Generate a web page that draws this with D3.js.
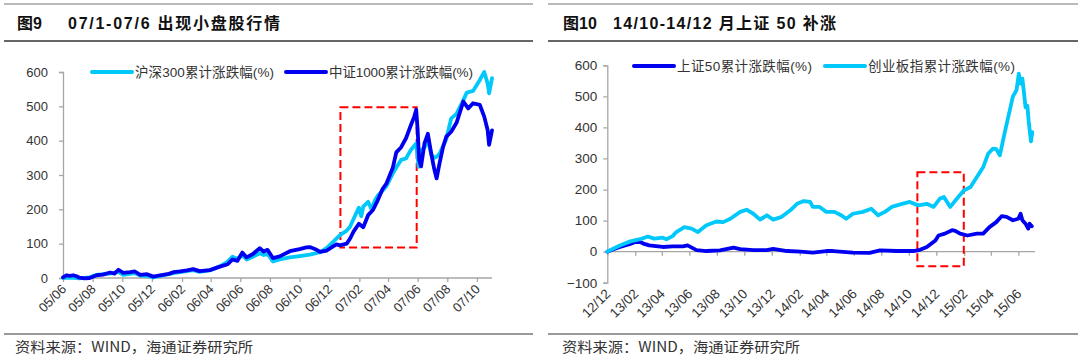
<!DOCTYPE html>
<html><head><meta charset="utf-8">
<script src="https://cdn.jsdelivr.net/npm/d3@7"></script>
<style>body{margin:0;background:#fff}svg{display:block}</style>
</head><body>
<svg id="c" width="1080" height="364"></svg>
<script>
// ---------- DATA: left chart (图9) ----------
const leftTitleNo = "图9";
const leftTitle = "07/1-07/6 出现小盘股行情";
const leftTickLabels = ["05/06","05/08","05/10","05/12","06/02","06/04","06/06","06/08","06/10","06/12","07/02","07/04","07/06","07/08","07/10"];
const leftYTicks = [0,100,200,300,400,500,600];
const hs300Name = "沪深300累计涨跌幅(%)";
const hs300Dates = ["2005-06-01","2005-06-15","2005-07-05","2005-07-26","2005-08-09","2005-08-22","2005-09-06","2005-09-23","2005-10-03","2005-10-17","2005-10-27","2005-11-07","2005-11-21","2005-12-04","2005-12-18","2006-01-14","2006-02-11","2006-02-24","2006-03-09","2006-03-30","2006-04-20","2006-05-06","2006-05-16","2006-05-26","2006-06-05","2006-06-14","2006-06-27","2006-07-11","2006-07-19","2006-07-27","2006-08-07","2006-08-21","2006-09-11","2006-10-01","2006-10-22","2006-11-12","2006-11-26","2006-12-09","2006-12-23","2007-01-06","2007-01-13","2007-01-20","2007-01-31","2007-02-05","2007-02-09","2007-02-19","2007-02-26","2007-03-05","2007-03-11","2007-03-21","2007-03-29","2007-04-11","2007-04-18","2007-04-28","2007-05-08","2007-05-18","2007-05-29","2007-06-03","2007-06-08","2007-06-15","2007-06-22","2007-06-29","2007-07-05","2007-07-10","2007-07-16","2007-07-30","2007-08-09","2007-08-20","2007-09-03","2007-09-10","2007-09-23","2007-10-07","2007-10-16","2007-10-23","2007-10-26","2007-11-01"];
const hs300Values = [0,1,-1,2,9,11,13,18,9,12,14,7,6,2,6,14,20,23,18,22,34,48,62,56,66,54,62,72,67,70,48,54,60,64,68,75,88,105,125,138,150,172,205,180,208,222,200,226,240,255,268,305,322,344,348,373,392,324,373,380,402,360,350,353,362,405,465,478,518,540,545,577,600,567,538,582];
const csi1000Name = "中证1000累计涨跌幅(%)";
const csi1000Dates = ["2005-06-01","2005-06-08","2005-06-15","2005-06-22","2005-06-29","2005-07-05","2005-07-15","2005-07-26","2005-08-09","2005-08-22","2005-09-06","2005-09-15","2005-09-23","2005-10-03","2005-10-17","2005-10-27","2005-11-07","2005-11-21","2005-12-04","2005-12-18","2006-01-05","2006-01-14","2006-01-28","2006-02-11","2006-02-24","2006-03-09","2006-03-30","2006-04-20","2006-05-06","2006-05-16","2006-05-26","2006-06-05","2006-06-14","2006-06-27","2006-07-11","2006-07-19","2006-07-27","2006-08-07","2006-08-21","2006-09-11","2006-10-01","2006-10-15","2006-10-22","2006-11-05","2006-11-12","2006-11-26","2006-12-09","2006-12-16","2006-12-23","2007-01-06","2007-01-13","2007-01-20","2007-01-31","2007-02-09","2007-02-19","2007-03-01","2007-03-11","2007-03-21","2007-03-29","2007-04-11","2007-04-18","2007-04-28","2007-05-08","2007-05-18","2007-05-25","2007-05-29","2007-06-01","2007-06-04","2007-06-08","2007-06-15","2007-06-22","2007-06-29","2007-07-05","2007-07-10","2007-07-16","2007-07-23","2007-07-30","2007-08-09","2007-08-20","2007-09-03","2007-09-13","2007-09-23","2007-10-07","2007-10-16","2007-10-23","2007-10-26","2007-11-01"];
const csi1000Values = [2,8,6,8,5,1,-1,0,8,10,16,13,24,15,17,19,9,11,4,8,12,17,19,22,26,20,23,33,40,54,50,74,60,70,87,77,82,58,63,78,84,89,90,82,76,80,92,98,95,100,115,135,158,148,183,198,227,260,276,322,366,381,407,445,470,490,430,344,325,392,420,362,318,290,334,380,412,426,452,514,494,509,504,470,431,388,430];
const leftBoxDates = ["2006-12-24","2007-05-30"];
const leftBoxValues = [89,497];

// ---------- DATA: right chart (图10) ----------
const rightTitleNo = "图10";
const rightTitle = "14/10-14/12 月上证 50 补涨";
const rightTickLabels = ["12/12","13/02","13/04","13/06","13/08","13/10","13/12","14/02","14/04","14/06","14/08","14/10","14/12","15/02","15/04","15/06"];
const rightYTicks = [-100,0,100,200,300,400,500,600];
const sz50Name = "上证50累计涨跌幅(%)";
const sz50Dates = ["2012-12-01","2012-12-15","2012-12-29","2013-01-21","2013-02-01","2013-02-12","2013-02-19","2013-03-04","2013-04-03","2013-04-25","2013-05-18","2013-05-28","2013-06-17","2013-07-09","2013-08-08","2013-09-07","2013-09-22","2013-10-21","2013-11-20","2013-12-04","2014-01-04","2014-02-03","2014-03-02","2014-04-01","2014-04-16","2014-05-30","2014-07-06","2014-07-29","2014-09-04","2014-10-11","2014-10-26","2014-11-10","2014-11-29","2014-12-06","2014-12-20","2015-01-05","2015-01-12","2015-01-23","2015-02-08","2015-03-01","2015-03-15","2015-03-29","2015-04-13","2015-04-25","2015-05-06","2015-05-20","2015-06-01","2015-06-06","2015-06-10","2015-06-17","2015-06-23","2015-06-26","2015-07-01"];
const sz50Values = [0,8,15,25,31,31,26,20,15,17,17,20,5,2,4,13,8,5,5,9,2,0,-3,2,2,-3,-4,4,2,2,6,15,36,52,58,69,67,58,52,58,58,79,95,114,112,101,106,122,101,90,74,90,82];
const cybName = "创业板指累计涨跌幅(%)";
const cybDates = ["2012-12-01","2012-12-15","2012-12-29","2013-01-21","2013-02-12","2013-03-01","2013-03-15","2013-04-03","2013-04-11","2013-04-25","2013-05-03","2013-05-21","2013-06-06","2013-06-20","2013-07-09","2013-07-31","2013-08-15","2013-08-31","2013-09-22","2013-10-06","2013-10-21","2013-11-05","2013-11-20","2013-12-04","2013-12-23","2014-01-11","2014-01-26","2014-02-10","2014-02-24","2014-03-02","2014-03-17","2014-04-01","2014-04-19","2014-05-04","2014-05-15","2014-05-30","2014-06-21","2014-07-10","2014-07-25","2014-08-09","2014-08-24","2014-09-16","2014-10-03","2014-10-22","2014-11-10","2014-11-25","2014-12-09","2014-12-18","2015-01-01","2015-01-16","2015-01-31","2015-02-15","2015-03-01","2015-03-15","2015-03-26","2015-04-06","2015-04-13","2015-04-21","2015-05-02","2015-05-13","2015-05-20","2015-05-28","2015-06-02","2015-06-06","2015-06-10","2015-06-13","2015-06-17","2015-06-21","2015-06-24","2015-06-29","2015-07-02"];
const cybValues = [0,10,20,33,40,49,42,45,40,50,63,79,74,63,85,97,95,106,128,135,122,103,117,103,112,133,154,163,160,144,144,128,128,117,106,122,128,138,117,128,144,154,160,149,154,144,171,176,144,171,197,208,240,272,315,332,330,310,385,455,500,520,573,541,557,519,465,470,420,355,385];
const rightBoxDates = ["2014-10-20","2015-01-31"];
const rightBoxValues = [-47,256];

const sourceText = "资料来源：WIND，海通证券研究所";

// ---------- DRAW ----------
const svg = d3.select("#c");
const parse = d3.timeParse("%Y-%m-%d");
const FONT = "'Liberation Sans','Noto Sans CJK SC',sans-serif";
const CYAN = "#00C8FA", BLUE = "#0000F0", AXIS = "#A6A6A6", TXT = "#333";

function frame(f) {
  svg.append("line").attr("x1",f.x0).attr("x2",f.x1).attr("y1",4).attr("y2",4).attr("stroke","#777").attr("stroke-width",1.2);
  svg.append("line").attr("x1",f.x0).attr("x2",f.x1).attr("y1",41).attr("y2",41).attr("stroke","#666").attr("stroke-width",2);
  svg.append("text").attr("x",f.noX).attr("y",29).attr("font-family",FONT).attr("font-weight","bold").attr("font-size",16).attr("fill","#111").text(f.no);
  svg.append("text").attr("x",f.tX).attr("y",29).attr("font-family",FONT).attr("font-weight","bold").attr("font-size",16).attr("fill","#111")
    .attr("textLength",f.tW).attr("lengthAdjust","spacing").text(f.title);
  svg.append("line").attr("x1",f.x0).attr("x2",f.x1).attr("y1",334).attr("y2",334).attr("stroke","#777").attr("stroke-width",1.5);
  svg.append("text").attr("x",f.sX).attr("y",352).attr("font-family","'Noto Sans CJK SC',sans-serif").attr("font-size",14).attr("fill",TXT)
    .attr("textLength",238).attr("lengthAdjust","spacingAndGlyphs").text(sourceText);
}
frame({x0:4,x1:533,noX:17,no:leftTitleNo,tX:68,tW:212,title:leftTitle,sX:15});
frame({x0:548,x1:1078,noX:563,no:rightTitleNo,tX:613,tW:223,title:rightTitle,sX:562});

function makeSeries(dates, vals){ return dates.map((d,i)=>({date:parse(d), v:vals[i]})); }

function chart(cfg){
  const g = svg.append("g");
  if (cfg.clip) {
    const id = "clip"+Math.round(cfg.xRange[0]);
    svg.append("clipPath").attr("id",id).append("rect").attr("x",cfg.xRange[0]-60).attr("y",0).attr("width",540).attr("height",cfg.clip);
    g.attr("clip-path",`url(#${id})`);
  }
  const x = d3.scaleTime().domain(cfg.xDomain.map(parse)).range(cfg.xRange);
  const y = d3.scaleLinear().domain(cfg.yDomain).range(cfg.yRange);
  const ya = g.append("g").attr("transform",`translate(${cfg.xRange[0]},0)`)
    .call(d3.axisLeft(y).tickValues(cfg.yTicks).tickSize(4).tickPadding(cfg.yPad).tickFormat(d3.format("d")));
  ya.select(".domain").attr("stroke",AXIS).attr("stroke-width",1.3);
  ya.selectAll(".tick line").attr("stroke",AXIS).attr("stroke-width",1.3);
  ya.selectAll("text").attr("font-family",FONT).attr("font-size",cfg.fs).attr("fill",TXT);
  const tickDates = cfg.ticks.map(t=>new Date(2000+ +t.slice(0,2), +t.slice(3)-1, 1));
  const xa = g.append("g").attr("transform",`translate(0,${y(0)})`)
    .call(d3.axisBottom(x).tickValues(tickDates).tickSize(4).tickFormat(""));
  xa.select(".domain").attr("stroke",AXIS).attr("stroke-width",1.3).attr("d",`M${cfg.xRange[0]},0H${cfg.xRange[1]}`);
  xa.selectAll(".tick line").attr("stroke",AXIS).attr("stroke-width",1.3);
  const labY = y(cfg.yDomain[0]) + cfg.labOff;
  g.selectAll(null).data(cfg.ticks).enter().append("text")
    .attr("transform",(d,i)=>`translate(${x(tickDates[i])+4},${labY}) rotate(-45)`)
    .attr("text-anchor","end").attr("font-family",FONT).attr("font-size",cfg.fs).attr("fill",TXT).text(d=>d);
  const bx0 = x(parse(cfg.boxD[0])), bx1 = x(parse(cfg.boxD[1]));
  const by0 = y(cfg.boxV[1]), by1 = y(cfg.boxV[0]);
  g.append("rect").attr("x",bx0).attr("y",by0).attr("width",bx1-bx0).attr("height",by1-by0)
    .attr("fill","none").attr("stroke","#FF0000").attr("stroke-width",2).attr("stroke-dasharray","8,4");
  const line = d3.line().x(d=>x(d.date)).y(d=>y(d.v));
  cfg.series.forEach(s=>{
    g.append("path").datum(s.data).attr("d",line).attr("fill","none").attr("stroke",s.color)
      .attr("stroke-width",3.8).attr("stroke-linejoin","round").attr("stroke-linecap","round");
  });
  cfg.legend.forEach(l=>{
    g.append("line").attr("x1",l.x).attr("x2",l.x+40).attr("y1",l.y).attr("y2",l.y).attr("stroke",l.color).attr("stroke-width",4).attr("stroke-linecap","round");
    g.append("text").attr("x",l.x+43).attr("y",l.y+5).attr("font-family",FONT).attr("font-size",13.5).attr("fill",TXT)
      .attr("textLength",l.w).attr("lengthAdjust","spacing").text(l.name);
  });
}

const hs = makeSeries(hs300Dates, hs300Values), csi = makeSeries(csi1000Dates, csi1000Values);
chart({
  xDomain:["2005-06-01","2007-11-01"], xRange:[63,492], yDomain:[0,600], yRange:[278,72],
  yTicks:leftYTicks, yPad:11, fs:13, ticks:leftTickLabels, labOff:12,
  boxD:leftBoxDates, boxV:leftBoxValues,
  series:[{data:hs,color:CYAN},{data:csi,color:BLUE}],
  legend:[{x:92,y:72,color:CYAN,name:hs300Name,w:139},{x:286,y:72,color:BLUE,name:csi1000Name,w:144}]
});
const sz = makeSeries(sz50Dates, sz50Values), cyb = makeSeries(cybDates, cybValues);
chart({
  xDomain:["2012-12-01","2015-07-08"], xRange:[607.3,1035], yDomain:[-100,600], yRange:[282.7,65.3],
  yTicks:rightYTicks, yPad:6, fs:13.5, ticks:rightTickLabels, labOff:12, clip:322,
  boxD:rightBoxDates, boxV:rightBoxValues,
  series:[{data:sz,color:BLUE},{data:cyb,color:CYAN}],
  legend:[{x:634,y:66,color:BLUE,name:sz50Name,w:135},{x:825,y:66,color:CYAN,name:cybName,w:147}]
});
</script>
</body></html>
